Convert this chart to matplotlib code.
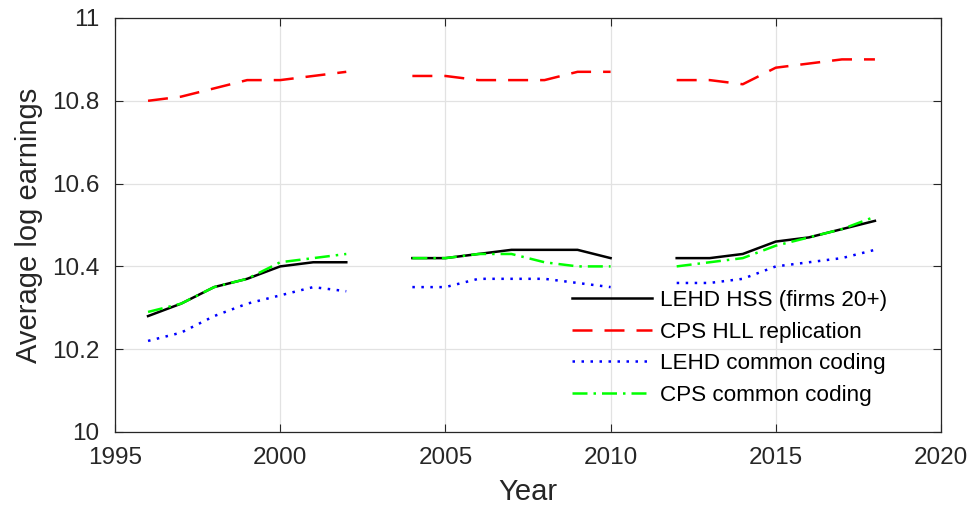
import numpy as np
import matplotlib
matplotlib.use("Agg")
import matplotlib.pyplot as plt

plt.rcParams['font.family'] = ['Liberation Sans', 'DejaVu Sans']

years = list(range(1996, 2019))
nan = np.nan
lehd_hss = [10.28, 10.31, 10.35, 10.37, 10.40, 10.41, 10.41, nan,
            10.42, 10.42, 10.43, 10.44, 10.44, 10.44, 10.42, nan,
            10.42, 10.42, 10.43, 10.46, 10.47, 10.49, 10.51]
cps_hll = [10.80, 10.81, 10.83, 10.85, 10.85, 10.86, 10.87, nan,
           10.86, 10.86, 10.85, 10.85, 10.85, 10.87, 10.87, nan,
           10.85, 10.85, 10.84, 10.88, 10.89, 10.90, 10.90]
lehd_common = [10.22, 10.24, 10.28, 10.31, 10.33, 10.35, 10.34, nan,
               10.35, 10.35, 10.37, 10.37, 10.37, 10.36, 10.35, nan,
               10.36, 10.36, 10.37, 10.40, 10.41, 10.42, 10.44]
cps_common = [10.29, 10.31, 10.35, 10.37, 10.41, 10.42, 10.43, nan,
              10.42, 10.42, 10.43, 10.43, 10.41, 10.40, 10.40, nan,
              10.40, 10.41, 10.42, 10.45, 10.47, 10.49, 10.52]
labels = ["LEHD HSS (firms 20+)", "CPS HLL replication",
          "LEHD common coding", "CPS common coding"]

fig = plt.figure(figsize=(9.69, 5.08), dpi=100)
ax = fig.add_axes([115/969, 1 - 432/508, (941-115)/969, (432-18)/508])

lw = 1.8
ax.plot(years, lehd_hss, color='black', lw=lw, ls='-', label=labels[0])
ax.plot(years, cps_hll, color='#ff0000', lw=lw, ls=(0, (8, 4.8)), label=labels[1])
ax.plot(years, lehd_common, color='#0000ff', lw=lw, ls=(0, (1, 2.6)), label=labels[2])
ax.plot(years, cps_common, color='#00ff00', lw=lw, ls=(0, (6, 2.4, 1, 2.4)), label=labels[3])

ax.set_xlim(1995, 2020)
ax.set_ylim(10, 11)
ax.set_xticks([1995, 2000, 2005, 2010, 2015, 2020])
ax.set_yticks([10, 10.2, 10.4, 10.6, 10.8, 11])
ax.set_yticklabels(['10', '10.2', '10.4', '10.6', '10.8', '11'])
ax.grid(True, color='#e2e2e2', lw=0.9)
ax.set_axisbelow(True)
ax.tick_params(direction='in', top=True, right=True, length=6, width=0.8,
               colors='#262626', labelsize=17.5, labelcolor='#262626')
ax.tick_params(axis='x', pad=11)
ax.tick_params(axis='y', pad=11)
for s in ax.spines.values():
    s.set_color('#262626')
    s.set_linewidth(0.9)
ax.set_xlabel('Year', fontsize=21, color='#262626', labelpad=6)
ax.set_ylabel('Average log earnings', fontsize=21, color='#262626', labelpad=7)

leg = ax.legend(loc='upper left', bbox_to_anchor=((572-115)/(941-115), 1 - (290-18)/414),
                frameon=False, fontsize=16.2, handlelength=3.55, handletextpad=0.35,
                labelspacing=0.47, borderaxespad=0, borderpad=0)
for t in leg.get_texts():
    t.set_color('black')

fig.savefig('out.png', dpi=100)
